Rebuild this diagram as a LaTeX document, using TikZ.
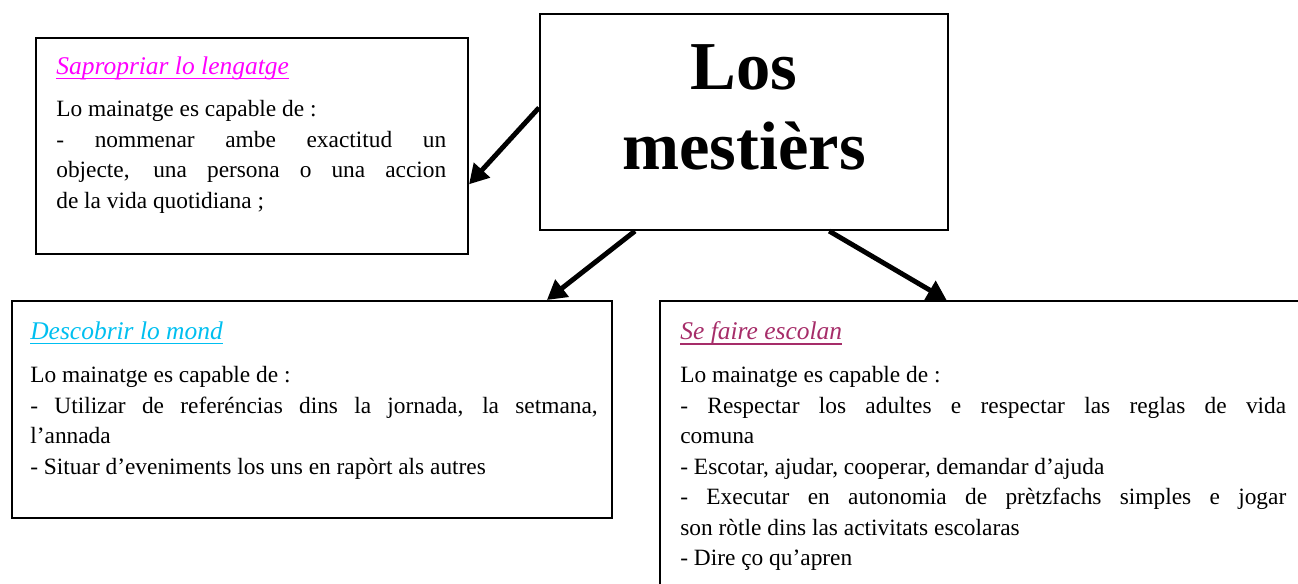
\documentclass[tikz,border=0pt]{standalone}
\usepackage{fontspec}
\setmainfont{Liberation Serif}
\usetikzlibrary{positioning,arrows.meta}

\definecolor{rose}{RGB}{255,0,255}
\definecolor{cian}{RGB}{0,191,240}
\definecolor{granat}{RGB}{166,45,105}

\newsavebox{\titbox}
\newcommand{\titol}[2]{{\color{#1}\fontsize{14.5}{17}\selectfont\itshape
  \sbox{\titbox}{#2}\rlap{\rule[-3pt]{\wd\titbox}{1pt}}\usebox{\titbox}}}

\tikzset{
  boite/.style={draw, line width=1.2pt, anchor=north west, inner sep=0pt},
  texte/.style={inner sep=0pt, align=justify, font=\fontsize{13.3}{17.35}\selectfont},
  fleche/.style={-{Triangle[length=11pt,width=12pt]}, line width=2.8pt},
}

\begin{document}
\begin{tikzpicture}[x=0.02cm, y=-0.02cm]
\useasboundingbox (0,0) rectangle (1298,583);
\clip (0,0) rectangle (1298,583);

% les quatre cases
\node[boite, minimum width=8.64cm, minimum height=4.32cm] (lang) at (35,37) {};
\node[boite, minimum width=8.16cm, minimum height=4.32cm] (mest) at (539,13) {};
\node[boite, minimum width=12cm, minimum height=4.34cm] (desc) at (11,300) {};
\node[boite, minimum width=12.86cm, minimum height=6cm] (esco) at (659,300) {};

% titol
\node[font=\bfseries\fontsize{39}{45.5}\selectfont, align=center] (nom) at ([yshift=0.3cm]mest.center) {Los\\mestièrs};

% los tèxtes
\node[texte, text width=7.8cm, below right=0.38cm and 0.42cm of lang.north west] (langtxt) {\titol{rose}{Sapropriar lo lengatge}\par\vskip 7pt
Lo mainatge es capable de :\par
- nommenar ambe exactitud un\linebreak objecte, una persona o una accion\linebreak de la vida quotidiana ;};

\node[texte, text width=11.35cm, below right=0.42cm and 0.38cm of desc.north west] (desctxt) {\titol{cian}{Descobrir lo mond}\par\vskip 7.5pt
Lo mainatge es capable de :\par
- Utilizar de referéncias dins la jornada, la setmana,\linebreak l'annada\par
- Situar d'eveniments los uns en rapòrt als autres};

\node[texte, text width=12.12cm, below right=0.42cm and 0.42cm of esco.north west] (escotxt) {\titol{granat}{Se faire escolan}\par\vskip 7.5pt
Lo mainatge es capable de :\par
- Respectar los adultes e respectar las reglas de vida\linebreak comuna\par
- Escotar, ajudar, cooperar, demandar d'ajuda\par
- Executar en autonomia de prètzfachs simples e jogar\linebreak son ròtle dins las activitats escolaras\par
- Dire ço qu'apren};

% las sagetas
\draw[fleche] (mest.176) -- (lang.-10);
\draw[fleche] (mest.225) -- (desc.25);
\draw[fleche] (mest.-52) -- (esco.103);
\end{tikzpicture}
\end{document}
